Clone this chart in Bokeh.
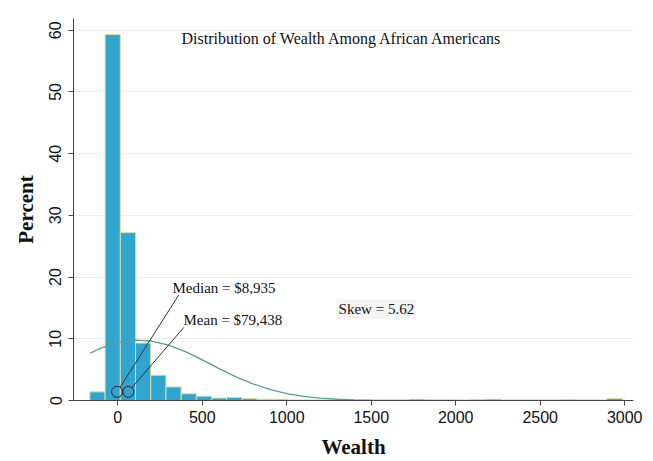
from bokeh.plotting import figure
from bokeh.models import Range1d, Label, FixedTicker, ColumnDataSource
from bokeh.embed import file_html
from bokeh.resources import INLINE

# ---- data (wealth in $1,000s, percent of households) ----
bin_start = -165
bin_width = 90
bar_heights = [1.4, 59.3, 27.2, 9.3, 4.1, 2.2, 1.1, 0.7, 0.4, 0.5,
               0.3, 0.2, 0.2, 0.1, 0.1, 0.1, 0.1, 0.05, 0.05, 0.05,
               0.05, 0.2, 0.05, 0.05, 0.0, 0.1, 0.2, 0.0, 0.0, 0.0,
               0.0, 0.1, 0.0, 0.0, 0.3]

curve_x = [-165, -100, 0, 100, 200, 300, 400, 500, 600, 700, 800, 900,
           1000, 1100, 1200, 1300, 1400, 1500, 1700, 2000, 2500, 3000]
curve_y = [7.66, 8.49, 9.38, 9.78, 9.64, 8.98, 7.91, 6.58, 5.17, 3.84, 2.70,
           1.79, 1.12, 0.66, 0.37, 0.20, 0.10, 0.05, 0.01, 0.0, 0.0, 0.0]

x_ticks = [0, 500, 1000, 1500, 2000, 2500, 3000]
y_ticks = [0, 10, 20, 30, 40, 50, 60]

title_text = "Distribution of Wealth Among African Americans"
median_text = "Median = $8,935"
mean_text = "Mean = $79,438"
skew_text = "Skew = 5.62"

# annotation anchors (data coords)
marker_x = [-4, 62]
marker_y = [1.4, 1.4]
leader_x0 = [13.6, 82.9]
leader_y0 = [2.15, 2.07]
leader_x1 = [361, 391]
leader_y1 = [17.1, 11.85]

# ---- figure ----
p = figure(width=653, height=461, output_backend="svg", toolbar_location=None,
           x_range=Range1d(-262, 3052), y_range=Range1d(0, 61.9),
           min_border_left=73, min_border_right=20, min_border_top=18,
           min_border_bottom=58)
p.outline_line_color = None
p.background_fill_color = "white"
p.border_fill_color = "white"

lefts, rights, tops = [], [], []
for k, h in enumerate(bar_heights):
    if h > 0:
        lefts.append(bin_start + k * bin_width)
        rights.append(bin_start + (k + 1) * bin_width)
        tops.append(h)
src = ColumnDataSource(dict(left=lefts, right=rights, top=tops, bottom=[0] * len(tops)))
p.quad(left="left", right="right", top="top", bottom="bottom", source=src,
       fill_color="#2fa5cf", line_color="#e2da9c", line_width=1)

p.line(curve_x, curve_y, line_color="#5a9f8e", line_width=1.3)

p.segment(x0=leader_x0, y0=leader_y0, x1=leader_x1, y1=leader_y1,
          line_color="#333333", line_width=1)
p.scatter(marker_x, marker_y, marker="circle", size=11, fill_color=None,
          line_color="#222222", line_width=1)

serif = "Liberation Serif"
p.add_layout(Label(x=377, y=58.7, text=title_text, text_font=serif,
                   text_font_size="16px", text_color="#111111",
                   text_baseline="middle"))
p.add_layout(Label(x=324, y=18.3, text=median_text, text_font=serif,
                   text_font_size="15px", text_color="#111111",
                   text_baseline="middle"))
p.add_layout(Label(x=389, y=13.0, text=mean_text, text_font=serif,
                   text_font_size="15px", text_color="#111111",
                   text_baseline="middle"))
p.add_layout(Label(x=1295, y=14.8, text=skew_text, text_font=serif,
                   text_font_size="15px", text_color="#111111",
                   text_baseline="middle", background_fill_color="#f4f4f4",
                   padding=2))

# axes
p.xaxis.ticker = FixedTicker(ticks=x_ticks)
p.yaxis.ticker = FixedTicker(ticks=y_ticks)
for ax in (p.xaxis, p.yaxis):
    ax.axis_line_color = "#444444"
    ax.major_tick_line_color = "#444444"
    ax.minor_tick_line_color = None
    ax.major_tick_out = 5
    ax.major_tick_in = 0
    ax.major_label_text_font = "Liberation Sans"
    ax.major_label_text_font_size = "16px"
    ax.major_label_text_color = "#111111"
    ax.axis_label_text_font = serif
    ax.axis_label_text_font_size = "21px"
    ax.axis_label_text_font_style = "bold"
    ax.axis_label_text_color = "#111111"
p.yaxis.major_label_orientation = "vertical"
p.xaxis.axis_label = "Wealth"
p.yaxis.axis_label = "Percent"
p.xaxis.major_label_standoff = 5
p.yaxis.major_label_standoff = 7
p.xaxis.axis_label_standoff = 9
p.yaxis.axis_label_standoff = 9

p.xgrid.grid_line_color = None
p.ygrid.grid_line_color = "#ececec"
p.ygrid.grid_line_width = 1

open("out.html", "w").write(file_html(p, INLINE))
